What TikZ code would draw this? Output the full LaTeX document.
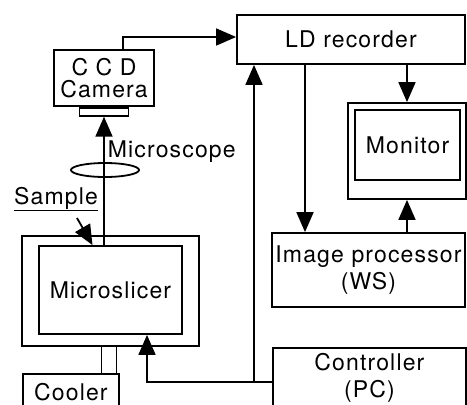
\documentclass[tikz,border=0pt]{standalone}
\usepackage{fontspec}
\setmainfont[LetterSpace=5]{TeX Gyre Heros}
\usetikzlibrary{shapes, arrows.meta, positioning}

\begin{document}
\begin{tikzpicture}[
    x=1pt, y=-1pt,
    line width=1.8pt,
    >={Triangle[length=20pt, width=17pt]},
    blk/.style={rectangle, draw, inner sep=0pt, font=\fontsize{23}{27}\selectfont, align=center},
    lbl/.style={inner sep=0pt, font=\fontsize{23}{27}\selectfont}
]
\path[use as bounding box] (0,0) rectangle (467,405);
\clip (0,0) rectangle (467,405);

% Optical path
\node[blk, minimum width=100pt, minimum height=56pt, font=\fontsize{23}{22}\selectfont] (Camera) at (104,78) {C C D\\Camera};
\node[blk, minimum width=49pt, minimum height=8pt, anchor=north] (CamPort) at (Camera.south) {};
\node[draw, ellipse, minimum width=68pt, minimum height=14pt] (Lens) at (105,170) {};
\node[lbl, anchor=base west] (ScopeLbl) at ([xshift=2pt, yshift=5pt]Lens.north) {Microscope};

\node[blk, minimum width=177pt, minimum height=110pt] (Slicer) at (110.5,291) {};
\node[blk, minimum width=143pt, minimum height=88pt] (SlicerIn) at (110.5,290) {Microslicer};
\node[lbl, anchor=base] (SampleLbl) at (56,204) {\underline{Sample}};
\node[blk, minimum width=96pt, minimum height=60pt, anchor=north west,
      label={[lbl, anchor=north, yshift=-9pt]north:Cooler}] (Cooler) at (22,373) {};

% Recording and processing
\node[blk, minimum width=228pt, minimum height=49pt] (Recorder) at (351,39.5) {LD recorder};
\node[blk, minimum width=118pt, minimum height=96pt] (Monitor) at (407,151) {};
\node[blk, minimum width=105pt, minimum height=70pt] (MonitorIn) at (407.5,145) {Monitor};
\node[blk, minimum width=193pt, minimum height=74pt] (Processor) at (368.5,270) {Image processor\\(WS)};
\node[blk, minimum width=193pt, minimum height=74pt, anchor=north west,
      label={[lbl, anchor=north, yshift=-5pt, align=center]north:Controller\\(PC)}] (Controller) at (272,347) {};
\coordinate (Junction) at ([xshift=-18pt, yshift=3pt]Controller.west);

% Connections
\draw[->] ([xshift=19pt]Camera.north) |- ([yshift=2.5pt]Recorder.west);
\draw[->] (CamPort.south |- SlicerIn.north) -- (CamPort.south);
\draw[->] ([xshift=21pt, yshift=-14pt]SampleLbl.base) -- ([xshift=-18pt]SlicerIn.north);
\draw ([xshift=-9pt]Slicer.south) -- ([xshift=-9pt]Slicer.south |- Cooler.north);
\draw ([xshift=6pt]Slicer.south) -- ([xshift=6pt]Slicer.south |- Cooler.north);
\draw[->] ([xshift=-46pt]Recorder.south) -- ([xshift=-46pt]Recorder.south |- Processor.north);
\draw[->] (Recorder.south -| Monitor.north) -- (Monitor.north);
\draw[->] (Processor.north -| Monitor.south) -- (Monitor.south);
\draw[->] ([yshift=3pt]Controller.west) -| ([xshift=36.5pt]SlicerIn.south);
\draw[->] (Junction) -- (Junction |- Recorder.south);

\end{tikzpicture}
\end{document}
